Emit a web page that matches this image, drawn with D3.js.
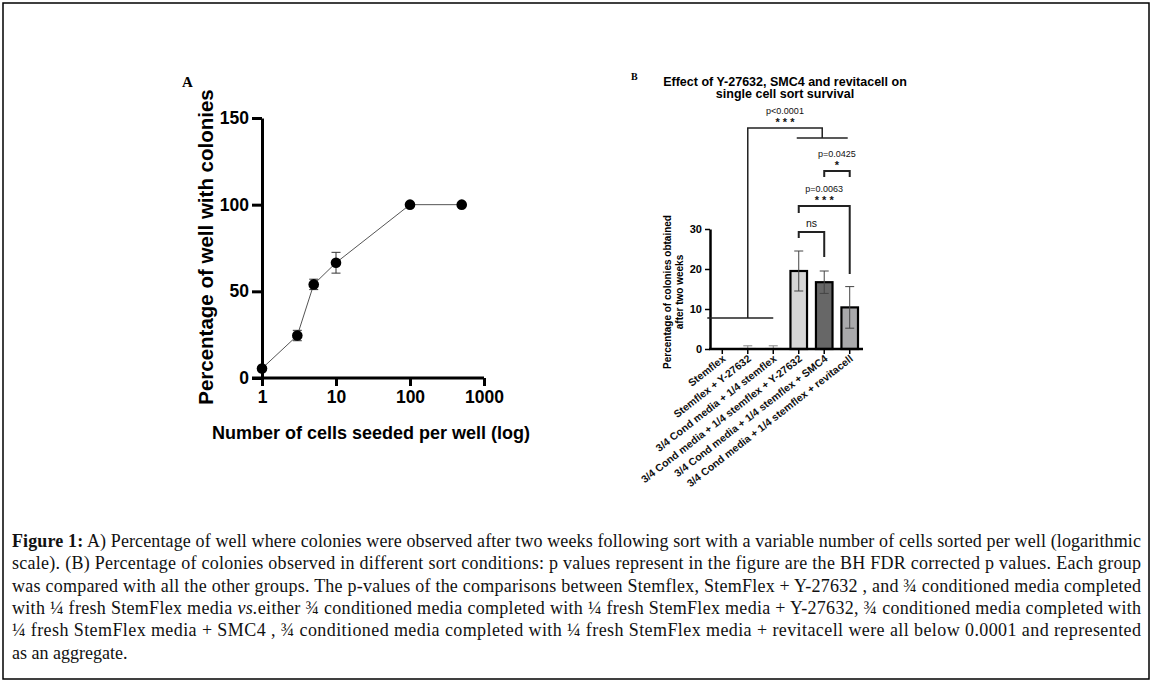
<!DOCTYPE html>
<html><head><meta charset="utf-8">
<script src="https://cdn.jsdelivr.net/npm/d3@7"></script>
<style>html,body{margin:0;padding:0;background:#fff;} svg{display:block;}</style>
</head><body>
<svg id="c" width="1155" height="687"></svg>
<script>
// ---------- Panel A data ----------
const cellsSeeded = [1, 3, 5, 10, 100, 500];
const pctWells    = [5.5, 24.5, 54, 66.5, 100, 100];
const pctWellsErr = [0, 3, 3, 6, 0, 0];
const aXTicks = [1, 10, 100, 1000];
const aYTicks = [0, 50, 100, 150];

// ---------- Panel B data ----------
const conditions = ["Stemflex", "Stemflex + Y-27632", "3/4 Cond media + 1/4 stemflex",
  "3/4 Cond media + 1/4 stemflex + Y-27632", "3/4 Cond media + 1/4 stemflex + SMC4",
  "3/4 Cond media + 1/4 stemflex + revitacell"];
const colonyPct = [0, 0.3, 0.3, 19.5, 16.7, 10.4];
const colonyErr = [0, 0.5, 0.5, 5, 2.8, 5.2];
const barFills  = ["#ffffff", "#d6d6d6", "#d6d6d6", "#d6d6d6", "#676767", "#a9a9ab"];
const bYTicks = [0, 10, 20, 30];
// comparisons: [left index, right index, top, left leg bottom, right leg bottom, p label, stars]
const comparisons = [
  [3, 4, 29.25, 27.75, 23.0, "", "ns"],
  [3, 5, 35.75, 34.0, 18.75, "p=0.0063", "* * *"],
  [4, 5, 44.5, 43.0, 43.0, "p=0.0425", "*"]
];

const captionLines = [
  ["Figure 1:", " A) Percentage of well where colonies were observed after two weeks following sort with a variable number of cells sorted per well (logarithmic"],
  ["", "scale). (B) Percentage of colonies observed in different sort conditions: p values represent in the figure are the BH FDR corrected p values. Each group"],
  ["", "was compared with all the other groups. The p-values of the comparisons between Stemflex, StemFlex + Y-27632 , and \u00be conditioned media completed"],
  ["", "with \u00bc fresh StemFlex media |vs.|either \u00be conditioned media completed with \u00bc fresh StemFlex media + Y-27632, \u00be conditioned media completed with"],
  ["", "\u00bc fresh StemFlex media + SMC4 , \u00be conditioned media completed with \u00bc fresh StemFlex media + revitacell  were all below 0.0001 and represented"],
  ["", "as an aggregate."]
];

const svg = d3.select("#c");
const SANS = "'Liberation Sans', Arial, sans-serif";
const SERIF = "'Liberation Serif', 'Times New Roman', serif";

svg.append("rect").attr("x", 3).attr("y", 3).attr("width", 1146).attr("height", 676)
  .attr("fill", "none").attr("stroke", "#000").attr("stroke-width", 1.5);

// ================= Panel A =================
const ax = d3.scaleLog().domain([1, 1000]).range([262, 484]);
const ay = d3.scaleLinear().domain([0, 150]).range([378, 118]);
const gA = svg.append("g");

const yAxA = gA.append("g").attr("transform", "translate(262,0)")
  .call(d3.axisLeft(ay).tickValues(aYTicks).tickSize(10).tickSizeOuter(0).tickPadding(3));
const xAxA = gA.append("g").attr("transform", "translate(0,378)")
  .call(d3.axisBottom(ax).tickValues(aXTicks).tickFormat(d3.format("d")).tickSize(8).tickSizeOuter(0).tickPadding(5));
[yAxA, xAxA].forEach(g => {
  g.select(".domain").attr("stroke", "#000").attr("stroke-width", 3);
  g.selectAll(".tick line").attr("stroke", "#000").attr("stroke-width", 3);
  g.selectAll(".tick text").attr("fill", "#000").attr("font-family", SANS)
    .attr("font-weight", "bold").attr("font-size", 17.5);
});
xAxA.select(".domain").attr("d", "M252,0H484");

gA.append("path")
  .attr("d", d3.line().x((d, i) => ax(d)).y((d, i) => ay(pctWells[i]))(cellsSeeded))
  .attr("fill", "none").attr("stroke", "#555").attr("stroke-width", 1);

cellsSeeded.forEach((c, i) => {
  if (pctWellsErr[i] > 0) {
    const x = ax(c), y1 = ay(pctWells[i] - pctWellsErr[i]), y2 = ay(pctWells[i] + pctWellsErr[i]);
    gA.append("path").attr("d", `M${x},${y1}V${y2}M${x-4.5},${y1}H${x+4.5}M${x-4.5},${y2}H${x+4.5}`)
      .attr("stroke", "#333").attr("stroke-width", 1).attr("fill", "none");
  }
});
gA.selectAll("circle.pt").data(cellsSeeded).join("circle").attr("class", "pt")
  .attr("cx", d => ax(d)).attr("cy", (d, i) => ay(pctWells[i])).attr("r", 5.3).attr("fill", "#000");

gA.append("text").attr("x", 371).attr("y", 439).attr("text-anchor", "middle")
  .attr("font-family", SANS).attr("font-weight", "bold").attr("font-size", 18)
  .text("Number of cells seeded per well (log)");
gA.append("text").attr("transform", "translate(213,247) rotate(-90)").attr("text-anchor", "middle")
  .attr("font-family", SANS).attr("font-weight", "bold").attr("font-size", 20.5)
  .text("Percentage of well with colonies");
gA.append("text").attr("x", 182).attr("y", 87).attr("font-family", SERIF).attr("font-weight", "bold")
  .attr("font-size", 15).text("A");

// ================= Panel B =================
const bx = d3.scaleBand().domain(d3.range(conditions.length)).range([714, 858]).paddingInner(0.35).paddingOuter(0);
const by = d3.scaleLinear().domain([0, 30]).range([349, 229]);
const gB = svg.append("g");
const cx = i => bx(i) + bx.bandwidth() / 2;

gB.append("text").attr("x", 631).attr("y", 80).attr("font-family", SERIF).attr("font-weight", "bold")
  .attr("font-size", 10).text("B");
gB.append("text").attr("x", 785).attr("y", 86).attr("text-anchor", "middle").attr("font-family", SANS)
  .attr("font-weight", "bold").attr("font-size", 12.5).text("Effect of Y-27632, SMC4 and revitacell on");
gB.append("text").attr("x", 785).attr("y", 98).attr("text-anchor", "middle").attr("font-family", SANS)
  .attr("font-weight", "bold").attr("font-size", 12.5).text("single cell sort survival");

// bars
gB.selectAll("rect.bar").data(colonyPct).join("rect").attr("class", "bar")
  .attr("x", (d, i) => bx(i)).attr("width", bx.bandwidth())
  .attr("y", d => by(d)).attr("height", d => by(0) - by(d))
  .attr("fill", (d, i) => barFills[i])
  .attr("stroke", (d, i) => i >= 3 ? "#000" : "none").attr("stroke-width", 2.2);

// error bars
colonyPct.forEach((v, i) => {
  if (colonyErr[i] > 0) {
    const x = cx(i), y1 = by(Math.max(0, v - colonyErr[i])), y2 = by(v + colonyErr[i]);
    gB.append("path").attr("d", `M${x},${y1}V${y2}M${x-4.5},${y2}H${x+4.5}` + (i >= 3 ? `M${x-4.5},${y1}H${x+4.5}` : ""))
      .attr("stroke", i >= 3 ? "#444" : "#888").attr("stroke-width", 1).attr("fill", "none");
  }
});

// axes
const yAxB = gB.append("g").attr("transform", "translate(710,0)")
  .call(d3.axisLeft(by).tickValues(bYTicks).tickSize(5).tickSizeOuter(0).tickPadding(3));
const xAxB = gB.append("g").attr("transform", "translate(0,349)")
  .call(d3.axisBottom(bx).tickFormat(() => "").tickSize(5).tickSizeOuter(0));
[yAxB, xAxB].forEach(g => {
  g.select(".domain").attr("stroke", "#000").attr("stroke-width", 2.5);
  g.selectAll(".tick line").attr("stroke", "#000").attr("stroke-width", 1.5);
});
xAxB.select(".domain").attr("d", "M709,0H863");
yAxB.selectAll(".tick text").attr("fill", "#000").attr("font-family", SANS)
  .attr("font-weight", "bold").attr("font-size", 11);

// x labels
gB.selectAll("text.xl").data(conditions).join("text").attr("class", "xl")
  .attr("transform", (d, i) => `translate(${cx(i) + 4},${360}) rotate(-38)`)
  .attr("text-anchor", "end").attr("font-family", SANS).attr("font-weight", "bold")
  .attr("font-size", 10.5).attr("fill", "#111").text(d => d);

// y title
const yt = gB.append("text").attr("transform", "translate(671,292) rotate(-90)").attr("text-anchor", "middle")
  .attr("font-family", SANS).attr("font-weight", "bold").attr("font-size", 10);
yt.append("tspan").attr("x", 0).attr("y", 0).text("Percentage of colonies obtained");
yt.append("tspan").attr("x", 0).attr("y", 12).text("after two weeks");

// brackets
const bStroke = "#222";
comparisons.forEach(([a, b, top, la, lb, p, s]) => {
  const xa = cx(a), xb = cx(b);
  gB.append("path").attr("d", `M${xa},${by(la)}V${by(top)}H${xb}V${by(lb)}`)
    .attr("fill", "none").attr("stroke", bStroke).attr("stroke-width", 2);
  const mx = (xa + xb) / 2;
  if (p) {
    gB.append("text").attr("x", mx).attr("y", by(top) - 14).attr("text-anchor", "middle")
      .attr("font-family", SANS).attr("font-size", 9).attr("fill", "#111").text(p);
    gB.append("text").attr("x", mx).attr("y", by(top) - 2).attr("text-anchor", "middle")
      .attr("font-family", SANS).attr("font-size", 11).attr("font-weight", "bold").attr("fill", "#111").text(s);
  } else {
    gB.append("text").attr("x", mx).attr("y", by(top) - 5).attr("text-anchor", "middle")
      .attr("font-family", SANS).attr("font-size", 10.5).attr("fill", "#111").text(s);
  }
});
// aggregate bracket
const grpY = by(52.75), lowY = by(7.75), topY = by(55.25);
const grpL = cx(3) - 2, grpR = cx(5) - 2, grpM = (grpL + grpR) / 2;
gB.append("path").attr("d", `M${grpL},${grpY}H${grpR}`).attr("stroke", bStroke).attr("stroke-width", 1.5);
gB.append("path").attr("d", `M${cx(0) - 15},${lowY}H${cx(2)}`).attr("stroke", bStroke).attr("stroke-width", 1.5);
gB.append("path").attr("d", `M${cx(1)},${lowY}V${topY}H${grpM}V${grpY}`).attr("fill", "none")
  .attr("stroke", bStroke).attr("stroke-width", 1.5);
gB.append("text").attr("x", 785).attr("y", topY - 14).attr("text-anchor", "middle")
  .attr("font-family", SANS).attr("font-size", 9).attr("fill", "#111").text("p<0.0001");
gB.append("text").attr("x", 785).attr("y", topY - 2).attr("text-anchor", "middle")
  .attr("font-family", SANS).attr("font-size", 11).attr("font-weight", "bold").attr("fill", "#111").text("* * *");

// ================= Caption =================
const cap = svg.append("g");
captionLines.forEach((ln, i) => {
  const t = cap.append("text").attr("x", 12).attr("y", 547 + i * 22.3)
    .attr("font-family", SERIF).attr("font-size", 18).attr("fill", "#111");
  if (ln[0]) t.append("tspan").attr("font-weight", "bold").text(ln[0]);
  const parts = ln[1].split("|");
  parts.forEach((p, k) => {
    const ts = t.append("tspan").text(p);
    if (k % 2 === 1) ts.attr("font-style", "italic");
  });
  if (i < captionLines.length - 1) t.attr("textLength", 1129).attr("lengthAdjust", "spacing");
});
</script>
</body></html>
